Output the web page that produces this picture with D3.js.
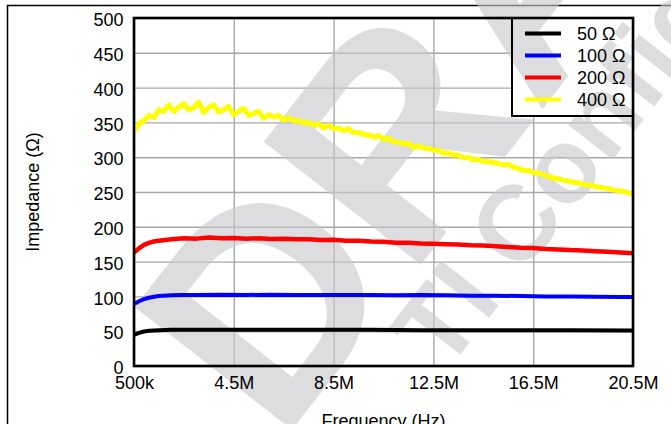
<!DOCTYPE html>
<html><head><meta charset="utf-8">
<script src="https://cdn.jsdelivr.net/npm/d3@7"></script>
<style>html,body{margin:0;padding:0;background:#fff;overflow:hidden;} svg{display:block;} text{font-family:"Liberation Sans",Arial,sans-serif;}</style>
</head><body><svg id="c" width="671" height="424"></svg>
<script>
// ---- data (frequency in MHz, impedance in ohms) ----
const seriesNames = ["50 Ω", "100 Ω", "200 Ω", "400 Ω"];
const seriesColors = ["#000000", "#0000ff", "#ff0000", "#ffff00"];

const xTicks = [0.5, 4.5, 8.5, 12.5, 16.5, 20.5];
const xTickLabels = ["500k", "4.5M", "8.5M", "12.5M", "16.5M", "20.5M"];
const yTicks = [0, 50, 100, 150, 200, 250, 300, 350, 400, 450, 500];

const freq50 = [0.5, 0.7, 0.9, 1.1, 1.3, 1.5, 2, 3, 4, 6, 8, 10, 12, 14, 16, 18, 20.5];
const imp50  = [44.5, 47.5, 49.5, 50.5, 51, 51.5, 52, 52, 52, 52, 52, 52, 51.5, 51.5, 51.5, 51.5, 51];

const freq100 = [0.5, 0.7, 0.9, 1.1, 1.3, 1.5, 2, 2.5, 3, 4, 5, 6, 7, 8, 9, 10, 11, 12, 13, 14, 15, 16, 17, 18, 19, 20, 20.5];
const imp100  = [89, 93, 96, 98, 99.5, 100.5, 101.5, 102, 102, 102.5, 102, 102.5, 102, 102, 102, 102, 101.5, 102, 101.5, 101, 101, 100.5, 100, 100, 99.5, 99, 99];

const freq200 = [0.5, 0.7, 0.9, 1.1, 1.3, 1.5, 2, 2.5, 3, 3.5, 4, 4.5, 5, 5.5, 6, 6.5, 7, 7.5, 8, 8.5, 9, 9.5, 10, 10.5, 11, 11.5, 12, 12.5, 13, 13.5, 14, 14.5, 15, 15.5, 16, 16.5, 17, 17.5, 18, 18.5, 19, 19.5, 20, 20.5];
const imp200  = [163, 169, 174, 177, 179, 180, 182, 183.5, 183, 184.5, 183.5, 184, 183, 183.5, 182.5, 183, 182, 182, 181, 181.5, 180, 180, 179, 178.5, 177, 177, 176, 175.5, 175, 174.5, 173.5, 173, 172, 171, 170, 169.5, 168, 167.5, 166.5, 166, 165, 164, 163, 162];

const freq400 = [0.5, 0.7, 0.9, 1.1, 1.3, 1.5, 1.7, 1.9, 2.1, 2.3, 2.5, 2.7, 2.9, 3.1, 3.3, 3.5, 3.7, 3.9, 4.1, 4.3, 4.5, 4.7, 4.9, 5.1, 5.3, 5.5, 5.7, 5.9, 6.1, 6.3, 6.5, 6.7, 6.9, 7.1, 7.3, 7.5, 7.7, 7.9, 8.1, 8.3, 8.5, 8.7, 8.9, 9.1, 9.3, 9.5, 9.7, 9.9, 10.1, 10.3, 10.5, 10.7, 10.9, 11.1, 11.3, 11.5, 11.7, 11.9, 12.1, 12.3, 12.5, 12.7, 12.9, 13.1, 13.3, 13.5, 13.7, 13.9, 14.1, 14.3, 14.5, 14.7, 14.9, 15.1, 15.3, 15.5, 15.7, 15.9, 16.1, 16.3, 16.5, 16.7, 16.9, 17.1, 17.3, 17.5, 17.7, 17.9, 18.1, 18.3, 18.5, 18.7, 18.9, 19.1, 19.3, 19.5, 19.7, 19.9, 20.1, 20.3, 20.5];
const imp400  = [337, 348, 352, 360, 357, 368, 366, 375, 366, 372, 377, 368, 371, 379, 364, 372, 375, 365, 368, 373, 361, 366, 370, 360, 363, 366, 356, 361, 358, 360, 353, 357, 352, 353, 349, 350, 346, 348, 342, 346, 341, 342, 338, 341, 335, 336, 333, 332, 329, 331, 326, 327, 322, 322, 319, 320, 314, 316, 313, 313, 310, 310, 306, 306, 303, 303, 299, 300, 296, 297, 294, 294, 292, 291, 289, 290, 286, 284, 281, 281, 278, 277, 275, 273, 270, 269, 267, 266, 264, 263, 261, 260, 259, 257, 256, 255, 253, 252, 251, 249, 247];

const series = [
  {freq: freq50, imp: imp50},
  {freq: freq100, imp: imp100},
  {freq: freq200, imp: imp200},
  {freq: freq400, imp: imp400}
];

// ---- layout ----
const svg = d3.select("#c");
const L = 134, R = 633, T = 18, B = 366;
const x = d3.scaleLinear().domain([0.5, 20.5]).range([L, R]);
const y = d3.scaleLinear().domain([0, 500]).range([B, T]);

// outer frame lines
svg.append("line").attr("x1", 7).attr("x2", 671).attr("y1", 5.5).attr("y2", 5.5).attr("stroke", "#000").attr("stroke-width", 1.5);
svg.append("line").attr("x1", 7.5).attr("x2", 7.5).attr("y1", 5).attr("y2", 424).attr("stroke", "#000").attr("stroke-width", 1.5);

// gridlines
const gx = svg.append("g").attr("transform", `translate(0,${B})`)
  .call(d3.axisBottom(x).tickValues(xTicks).tickSize(-(B - T)).tickFormat(""));
gx.select(".domain").remove();
gx.selectAll("line").attr("stroke", "#a8a8a8").attr("stroke-width", 1.4);
const gy = svg.append("g").attr("transform", `translate(${L},0)`)
  .call(d3.axisLeft(y).tickValues(yTicks).tickSize(-(R - L)).tickFormat(""));
gy.select(".domain").remove();
gy.selectAll("line").attr("stroke", "#a8a8a8").attr("stroke-width", 1.4);

// legend background
const lg = {x: 512, y: T, w: R - 512, h: 98};
svg.append("rect").attr("x", lg.x).attr("y", lg.y).attr("width", lg.w).attr("height", lg.h).attr("fill", "#fff");

// watermark
const wm = svg.append("g").attr("fill", "#c8c8cc").attr("fill-opacity", 0.62).attr("font-weight", "bold");
wm.append("text").attr("transform", "translate(280,445) rotate(-52)").attr("font-size", 290).text("DRAFT");
wm.append("text").attr("transform", "translate(445,374) rotate(-52)").attr("font-size", 106).text("TI Confidential");

// data lines
svg.append("clipPath").attr("id", "pc").append("rect").attr("x", L).attr("y", T).attr("width", R - L).attr("height", B - T);
const line = d3.line().x(d => x(d[0])).y(d => y(d[1]));
const gl = svg.append("g").attr("clip-path", "url(#pc)");
series.forEach((s, i) => {
  const pts = s.freq.map((f, j) => [f, s.imp[j]]);
  gl.append("path").datum(pts).attr("d", line).attr("fill", "none")
    .attr("stroke", seriesColors[i]).attr("stroke-width", i === 3 ? 5 : (i === 2 ? 4.5 : 4))
    .attr("stroke-linejoin", "round").attr("stroke-linecap", "butt");
});

// plot border
svg.append("rect").attr("x", L).attr("y", T).attr("width", R - L).attr("height", B - T)
  .attr("fill", "none").attr("stroke", "#000").attr("stroke-width", 2.6);

// legend
const lgg = svg.append("g");
seriesNames.forEach((n, i) => {
  const yy = 33.5 + i * 22;
  lgg.append("line").attr("x1", 525).attr("x2", 561).attr("y1", yy).attr("y2", yy)
    .attr("stroke", seriesColors[i]).attr("stroke-width", 4);
  lgg.append("text").attr("x", 577).attr("y", yy).attr("dy", "0.36em").attr("font-size", 18).attr("fill", "#000").text(n);
});
svg.append("rect").attr("x", lg.x).attr("y", lg.y).attr("width", lg.w).attr("height", lg.h)
  .attr("fill", "none").attr("stroke", "#000").attr("stroke-width", 2);

// axes labels
const ax = svg.append("g").attr("transform", `translate(0,${B})`)
  .call(d3.axisBottom(x).tickValues(xTicks).tickSize(0).tickPadding(10.7).tickFormat((d, i) => xTickLabels[i]));
ax.select(".domain").remove();
ax.selectAll("text").attr("font-size", 18).attr("fill", "#000").attr("font-family", null);
const ay = svg.append("g").attr("transform", `translate(${L},0)`)
  .call(d3.axisLeft(y).tickValues(yTicks).tickSize(0).tickPadding(10.5));
ay.select(".domain").remove();
ay.selectAll("text").attr("font-size", 18).attr("fill", "#000").attr("dy", "0.43em").attr("font-family", null);

// titles
svg.append("text").attr("transform", `translate(32.5,${(T + B) / 2}) rotate(-90)`)
  .attr("text-anchor", "middle").attr("dy", "0.35em").attr("font-size", 18).text("Impedance (Ω)");
svg.append("text").attr("x", (L + R) / 2).attr("y", 426.5).attr("text-anchor", "middle").attr("font-size", 18).text("Frequency (Hz)");
</script></body></html>
